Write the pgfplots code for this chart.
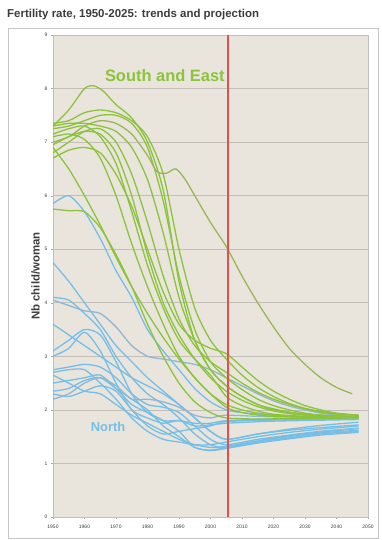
\documentclass[border=0pt]{standalone}
\usepackage{pgfplots}
\pgfplotsset{compat=1.18}
\usepackage{fontspec}
\setmainfont{Liberation Sans}
\definecolor{bgc}{RGB}{233,229,221}
\definecolor{gridc}{RGB}{196,190,184}
\definecolor{gc}{RGB}{140,195,60}
\definecolor{gc2}{RGB}{155,182,85}
\definecolor{bc}{RGB}{118,190,230}
\definecolor{bc2}{RGB}{145,182,210}
\definecolor{vred}{RGB}{228,78,78}
\definecolor{txt}{RGB}{60,60,60}
\begin{document}
\begin{tikzpicture}
\path[use as bounding box] (-53bp,-23bp) rectangle (329bp,517bp);
\draw[gray!45, line width=0.6bp] (-45bp,-21bp) rectangle (325bp,489bp);
\node[anchor=west, font=\bfseries\fontsize{11.5}{13}\selectfont, text=txt, inner sep=0pt] at (-46bp,502bp) {Fertility rate, 1950-2025: trends and projection};
\begin{axis}[
  scale only axis, width=315bp, height=482bp,
  xmin=1950, xmax=2050, ymin=0, ymax=9,
  xtick={1950,1960,...,2050}, ytick={0,1,...,9},
  /pgf/number format/1000 sep={},
  /pgf/number format/assume math mode=true,
  tick label style={font=\fontsize{5}{6}\selectfont, text=txt},
  xticklabel style={yshift=-3bp},
  ylabel={Nb child/woman},
  ylabel style={font=\bfseries\fontsize{11.5}{13}\selectfont, text=txt, yshift=-2bp},
  axis background/.style={fill=bgc},
  axis line style={draw=gray!50},
  ymajorgrids, grid style={gridc, line width=0.7bp},
  tick style={draw=gray!70}, major tick length=2bp,
  tick align=outside, xtick pos=bottom, ytick pos=left,
  clip=true,
  cv/.style={line width=1.3bp, smooth, tension=0.45, no marks},
]
% ---------- North (blue)
\addplot[bc, cv] coordinates {(1950,5.85)(1955,6.0)(1960,5.7)(1965,5.2)(1970,4.6)(1975,4.1)(1980,3.5)(1985,3.1)(1990,2.75)(1995,2.4)(2000,2.15)(2005,2.0)(2010,1.95)(2020,1.9)(2030,1.87)(2047,1.85)};
\addplot[bc, cv] coordinates {(1950,4.75)(1955,4.4)(1960,4.0)(1965,3.6)(1970,3.2)(1975,2.9)(1980,2.6)(1985,2.35)(1990,2.1)(1995,1.85)(2000,1.6)(2005,1.45)(2015,1.55)(2025,1.64)(2035,1.71)(2047,1.77)};
\addplot[bc, cv] coordinates {(1950,4.1)(1955,4.05)(1960,3.8)(1965,3.5)(1970,3.0)(1975,2.6)(1980,2.3)(1985,2.1)(1990,1.85)(1995,1.55)(2000,1.35)(2005,1.3)(2015,1.42)(2025,1.52)(2035,1.59)(2047,1.65)};
\addplot[bc2, cv] coordinates {(1950,4.05)(1955,3.95)(1960,3.85)(1965,3.8)(1970,3.55)(1975,3.2)(1980,3.0)(1985,2.95)(1990,2.9)(1995,2.85)(2000,2.75)(2005,2.6)(2010,2.45)(2015,2.3)(2020,2.17)(2025,2.07)(2030,2.0)(2035,1.94)(2040,1.9)(2047,1.87)};
\addplot[bc, cv] coordinates {(1950,3.6)(1955,3.4)(1960,3.2)(1965,3.0)(1970,2.8)(1975,2.6)(1980,2.45)(1985,2.3)(1990,2.1)(1995,1.85)(2000,1.6)(2005,1.45)(2015,1.55)(2025,1.62)(2035,1.67)(2047,1.72)};
\addplot[bc, cv] coordinates {(1950,3.1)(1955,3.3)(1960,3.5)(1965,3.4)(1970,2.9)(1975,2.3)(1980,1.95)(1985,1.8)(1990,1.8)(1995,1.75)(2000,1.75)(2005,1.8)(2020,1.83)(2047,1.85)};
\addplot[bc, cv] coordinates {(1950,3.0)(1955,3.15)(1960,3.45)(1965,3.1)(1970,2.5)(1975,2.0)(1980,1.85)(1985,1.75)(1990,1.8)(1995,1.7)(2000,1.72)(2005,1.75)(2020,1.79)(2047,1.82)};
\addplot[bc, cv] coordinates {(1950,2.75)(1955,2.8)(1960,2.85)(1965,2.8)(1970,2.6)(1975,2.3)(1980,2.1)(1985,2.05)(1990,1.95)(1995,1.7)(2000,1.45)(2005,1.35)(2015,1.45)(2025,1.53)(2035,1.6)(2047,1.66)};
\addplot[bc, cv] coordinates {(1950,2.7)(1955,2.75)(1960,2.75)(1965,2.5)(1970,2.2)(1975,1.85)(1980,1.6)(1985,1.45)(1990,1.4)(1995,1.35)(2000,1.35)(2005,1.4)(2015,1.5)(2025,1.58)(2035,1.64)(2047,1.7)};
\addplot[bc, cv] coordinates {(1950,2.5)(1955,2.55)(1960,2.6)(1965,2.65)(1970,2.4)(1975,2.1)(1980,1.95)(1985,1.8)(1990,1.6)(1995,1.3)(2000,1.25)(2005,1.3)(2015,1.4)(2025,1.48)(2035,1.55)(2047,1.6)};
\addplot[bc, cv] coordinates {(1950,2.35)(1955,2.4)(1960,2.55)(1965,2.6)(1970,2.4)(1975,2.2)(1980,2.0)(1985,1.7)(1990,1.5)(1995,1.3)(2000,1.24)(2005,1.28)(2015,1.38)(2025,1.46)(2035,1.53)(2047,1.58)};
\addplot[bc, cv] coordinates {(1950,2.3)(1955,2.25)(1960,2.35)(1965,2.45)(1970,2.35)(1975,2.0)(1980,1.7)(1985,1.55)(1990,1.6)(1995,1.65)(2000,1.7)(2005,1.78)(2020,1.81)(2047,1.83)};
\addplot[bc2, cv] coordinates {(1950,2.2)(1955,2.3)(1960,2.5)(1965,2.6)(1970,2.45)(1975,2.2)(1980,2.2)(1985,2.15)(1990,2.05)(1995,1.9)(2000,1.85)(2005,1.9)(2020,1.87)(2047,1.85)};
\addplot[bc, cv] coordinates {(1950,2.65)(1955,2.5)(1960,2.35)(1965,2.3)(1970,2.1)(1975,1.9)(1980,1.75)(1985,1.6)(1990,1.45)(1995,1.35)(2000,1.3)(2005,1.32)(2015,1.42)(2025,1.5)(2035,1.57)(2047,1.62)};
% ---------- South and East (green)
\addplot[gc, cv] coordinates {(1950,7.3)(1955,7.6)(1960,8.0)(1963,8.05)(1966,7.95)(1970,7.7)(1975,7.45)(1980,7.0)(1985,6.1)(1990,4.4)(1995,3.3)(2000,2.75)(2005,2.45)(2010,2.25)(2015,2.1)(2020,2.02)(2025,1.96)(2030,1.92)(2035,1.9)(2040,1.88)(2047,1.87)};
\addplot[gc, cv] coordinates {(1950,7.35)(1955,7.4)(1960,7.55)(1965,7.6)(1970,7.55)(1975,7.4)(1980,7.1)(1985,6.4)(1990,5.0)(1995,3.9)(2000,3.3)(2005,2.95)(2010,2.65)(2015,2.42)(2020,2.25)(2025,2.12)(2030,2.03)(2035,1.97)(2040,1.93)(2047,1.9)};
\addplot[gc, cv] coordinates {(1950,7.25)(1955,7.3)(1960,7.4)(1965,7.5)(1970,7.5)(1975,7.35)(1980,6.9)(1985,5.9)(1990,4.5)(1995,3.5)(2000,2.9)(2005,2.6)(2010,2.38)(2015,2.2)(2020,2.08)(2025,2.0)(2030,1.94)(2035,1.9)(2040,1.88)(2047,1.87)};
\addplot[gc2, cv] coordinates {(1950,7.0)(1955,7.1)(1960,7.3)(1965,7.4)(1970,7.35)(1975,7.15)(1980,6.75)(1983,6.45)(1986,6.42)(1989,6.5)(1992,6.3)(1995,6.0)(2000,5.5)(2005,5.05)(2010,4.5)(2015,4.0)(2020,3.55)(2025,3.15)(2030,2.85)(2035,2.6)(2040,2.42)(2045,2.3)};
\addplot[gc, cv] coordinates {(1950,6.95)(1955,7.1)(1960,7.2)(1965,7.15)(1970,6.8)(1975,6.0)(1980,4.9)(1985,4.0)(1990,3.4)(1995,2.95)(2000,2.6)(2005,2.35)(2010,2.18)(2015,2.06)(2020,1.98)(2025,1.93)(2030,1.9)(2035,1.88)(2040,1.87)(2047,1.86)};
\addplot[gc, cv] coordinates {(1950,6.8)(1955,7.0)(1960,7.2)(1965,7.25)(1970,7.0)(1975,6.4)(1980,5.5)(1985,4.5)(1990,3.7)(1995,3.2)(2000,2.9)(2005,2.7)(2010,2.5)(2015,2.33)(2020,2.2)(2025,2.1)(2030,2.02)(2035,1.96)(2040,1.92)(2047,1.9)};
\addplot[gc, cv] coordinates {(1950,7.1)(1955,7.15)(1960,7.05)(1965,6.7)(1970,6.0)(1975,5.1)(1980,4.3)(1985,3.6)(1990,3.0)(1995,2.6)(2000,2.3)(2005,2.1)(2010,2.0)(2015,1.94)(2020,1.9)(2030,1.87)(2047,1.86)};
\addplot[gc, cv] coordinates {(1950,6.9)(1955,6.5)(1960,6.0)(1965,5.45)(1970,4.85)(1975,4.3)(1980,3.8)(1985,3.35)(1990,2.95)(1995,2.6)(2000,2.3)(2005,2.05)(2010,1.95)(2020,1.88)(2047,1.86)};
\addplot[gc, cv] coordinates {(1950,5.75)(1955,5.72)(1960,5.7)(1965,5.4)(1970,4.9)(1975,4.3)(1980,3.6)(1985,3.0)(1990,2.5)(1995,2.15)(2000,1.95)(2005,1.85)(2015,1.83)(2030,1.84)(2047,1.85)};
\addplot[gc, cv] coordinates {(1950,7.3)(1955,7.35)(1960,7.35)(1965,7.3)(1970,7.2)(1975,6.9)(1980,6.3)(1985,5.3)(1990,4.1)(1995,3.3)(2000,2.75)(2005,2.45)(2010,2.25)(2015,2.1)(2020,2.0)(2030,1.92)(2047,1.87)};
\addplot[gc, cv] coordinates {(1950,7.15)(1955,7.25)(1960,7.3)(1965,7.1)(1970,6.6)(1975,5.7)(1980,4.7)(1985,3.9)(1990,3.3)(1995,2.95)(2000,2.65)(2005,2.25)(2010,2.08)(2015,1.98)(2020,1.92)(2030,1.88)(2047,1.87)};
\addplot[gc, cv] coordinates {(1950,6.7)(1955,6.85)(1960,6.9)(1965,6.8)(1970,6.4)(1975,5.8)(1980,5.0)(1985,4.2)(1990,3.6)(1995,3.3)(2000,3.15)(2005,3.05)(2010,2.8)(2015,2.55)(2020,2.35)(2025,2.2)(2030,2.08)(2035,2.0)(2040,1.94)(2047,1.9)};
% red reference line (2005), drawn as a thin filled band on top
\addplot[draw=none, fill=vred, sharp plot, no marks] coordinates {(2005.28,-0.1) (2005.72,-0.1) (2005.72,9.1) (2005.28,9.1)} -- cycle;
\node[font=\bfseries\fontsize{16.5}{18}\selectfont, text=gc] at (axis cs:1985.5,8.25) {South and East};
\node[font=\bfseries\fontsize{13}{15}\selectfont, text=bc] at (axis cs:1967.5,1.68) {North};
\end{axis}
\end{tikzpicture}
\end{document}
